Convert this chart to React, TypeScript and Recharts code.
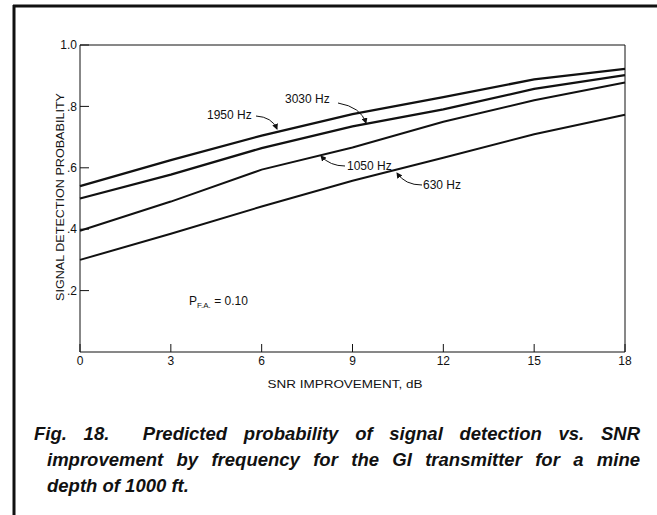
import React from 'react';
import { LineChart, Line, XAxis, YAxis } from 'recharts';

const snrDb = [0, 3, 6, 9, 12, 15, 18];
const p1950 = [0.54, 0.625, 0.705, 0.775, 0.83, 0.888, 0.922];
const p3030 = [0.5, 0.578, 0.664, 0.735, 0.79, 0.857, 0.902];
const p1050 = [0.395, 0.49, 0.594, 0.666, 0.75, 0.82, 0.878];
const p630 = [0.3, 0.385, 0.474, 0.558, 0.633, 0.709, 0.773];
const xTicks = [0, 3, 6, 9, 12, 15, 18];
const yTicks = [0.2, 0.4, 0.6, 0.8, 1.0];
const yTickLabels = ['.2', '.4', '.6', '.8', '1.0'];

const data = snrDb.map((x, i) => ({
  x,
  f1950: p1950[i],
  f3030: p3030[i],
  f1050: p1050[i],
  f630: p630[i],
}));

const tickFont = "'Liberation Sans Narrow', 'Liberation Sans', Arial, sans-serif";
const sans = "'Liberation Sans', Arial, sans-serif";
const ink = '#111';

export default function App() {
  return (
    <div style={{ position: 'absolute', left: 0, top: 0, width: 657, height: 515, background: '#fff', overflow: 'hidden' }}>
      <LineChart width={657} height={400} data={data} margin={{ top: 44, right: 31, bottom: 47, left: 79 }}>
        <XAxis
          dataKey="x"
          type="number"
          domain={[0, 18]}
          ticks={xTicks}
          interval={0}
          height={1}
          tickSize={-8}
          tickMargin={12}
          stroke={ink}
          tick={{ fill: ink, fontSize: 12, fontFamily: tickFont }}
        />
        <XAxis
          xAxisId="top"
          orientation="top"
          type="number"
          domain={[0, 18]}
          ticks={xTicks}
          interval={0}
          height={1}
          tickSize={-8}
          tick={false}
          stroke={ink}
        />
        <YAxis
          type="number"
          domain={[0, 1]}
          ticks={yTicks}
          interval={0}
          width={1}
          tickSize={-9}
          tickMargin={12}
          stroke={ink}
          tickFormatter={(v: number) => yTickLabels[yTicks.indexOf(v)] ?? ''}
          tick={{ fill: ink, fontSize: 12, fontFamily: tickFont }}
        />
        <YAxis
          yAxisId="r"
          orientation="right"
          type="number"
          domain={[0, 1]}
          ticks={yTicks}
          interval={0}
          width={1}
          tickSize={-9}
          tick={false}
          stroke={ink}
        />
        <Line dataKey="f1950" type="linear" stroke={ink} strokeWidth={2.3} dot={false} isAnimationActive={false} />
        <Line dataKey="f3030" type="linear" stroke={ink} strokeWidth={2.3} dot={false} isAnimationActive={false} />
        <Line dataKey="f1050" type="linear" stroke={ink} strokeWidth={2} dot={false} isAnimationActive={false} />
        <Line dataKey="f630" type="linear" stroke={ink} strokeWidth={2} dot={false} isAnimationActive={false} />
      </LineChart>

      <svg width={657} height={515} style={{ position: 'absolute', left: 0, top: 0, pointerEvents: 'none' }}>
        <defs>
          <marker id="ah" markerWidth="6" markerHeight="6" refX="5" refY="3" orient="auto" markerUnits="userSpaceOnUse">
            <path d="M0,0 L6,3 L0,6 Z" fill={ink} />
          </marker>
        </defs>
        {/* frame */}
        <line x1={13} y1={6} x2={657} y2={6} stroke={ink} strokeWidth={3} />
        <line x1={14} y1={5} x2={14} y2={515} stroke={ink} strokeWidth={3} />

        {/* axis titles */}
        <text
          x={60}
          y={197}
          transform="rotate(-90 60 197)"
          textAnchor="middle"
          dominantBaseline="central"
          fontFamily={sans}
          fontSize={11}
          fill={ink}
          textLength={208}
          lengthAdjust="spacingAndGlyphs"
        >
          SIGNAL DETECTION PROBABILITY
        </text>
        <text x={345} y={388} textAnchor="middle" fontFamily={tickFont} fontSize={11} fill={ink} textLength={155} lengthAdjust="spacingAndGlyphs">
          SNR IMPROVEMENT, dB
        </text>

        {/* annotations */}
        <g fontFamily={sans} fontSize={12} fill={ink}>
          <text x={207} y={119}>1950 Hz</text>
          <text x={285} y={103}>3030 Hz</text>
          <text x={347} y={170}>1050 Hz</text>
          <text x={423} y={189}>630 Hz</text>
          <text x={189} y={305}>
            P<tspan fontSize={8} dy={3}>F.A.</tspan>
            <tspan fontSize={12} dy={-3}> = 0.10</tspan>
          </text>
        </g>
        <g fill="none" stroke={ink} strokeWidth={1}>
          <path d="M256,116 Q272,117 277,129" markerEnd="url(#ah)" />
          <path d="M338,103 Q361,107 366,123" markerEnd="url(#ah)" />
          <path d="M345,166 Q330,166 321,156" markerEnd="url(#ah)" />
          <path d="M422,185 Q405,185 397,173" markerEnd="url(#ah)" />
        </g>
      </svg>

      <div
        style={{
          position: 'absolute',
          left: 34,
          top: 421,
          width: 606,
          fontFamily: sans,
          fontWeight: 'bold',
          fontStyle: 'italic',
          fontSize: 18.5,
          lineHeight: '26px',
          color: ink,
        }}
      >
        <div style={{ textAlign: 'justify', textAlignLast: 'justify' }}>
          Fig. 18.&nbsp; Predicted probability of signal detection vs. SNR
        </div>
        <div style={{ marginLeft: 13, textAlign: 'justify', textAlignLast: 'justify' }}>
          improvement by frequency for the GI transmitter for a mine
        </div>
        <div style={{ marginLeft: 13 }}>depth of 1000 ft.</div>
      </div>
    </div>
  );
}
